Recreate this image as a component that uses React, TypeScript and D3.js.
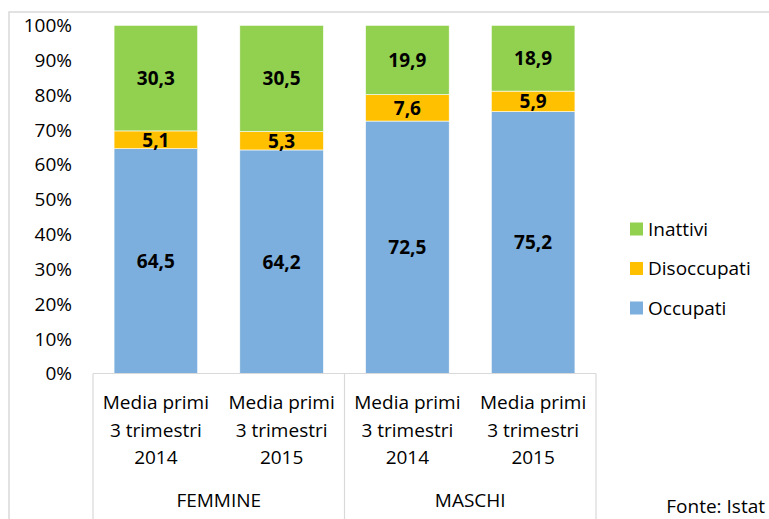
import React from "react";
import * as d3 from "d3";

const width = 769;
const height = 519;

// data
const groups = ["FEMMINE", "MASCHI"];
const categories = ["F2014", "F2015", "M2014", "M2015"];
const categoryLines = [
  ["Media primi", "3 trimestri", "2014"],
  ["Media primi", "3 trimestri", "2015"],
  ["Media primi", "3 trimestri", "2014"],
  ["Media primi", "3 trimestri", "2015"],
];
const seriesNames = ["Occupati", "Disoccupati", "Inattivi"];
const occupati = [64.5, 64.2, 72.5, 75.2];
const disoccupati = [5.1, 5.3, 7.6, 5.9];
const inattivi = [30.3, 30.5, 19.9, 18.9];
const yTicks = [0, 0.1, 0.2, 0.3, 0.4, 0.5, 0.6, 0.7, 0.8, 0.9, 1];

const colors: Record<string, string> = {
  Occupati: "#7cafdd",
  Disoccupati: "#ffc000",
  Inattivi: "#92d050",
};

const font = "'Open Sans', sans-serif";
const fontSize = 19;

const plot = { left: 93, right: 596, top: 25.3, bottom: 373.5 };

if (typeof document !== "undefined") document.body.style.margin = "0";

export default function App() {
  const rows = categories.map((c, i) => ({
    cat: c,
    Occupati: occupati[i],
    Disoccupati: disoccupati[i],
    Inattivi: inattivi[i],
  }));

  // 100% stacked
  const stacked = d3
    .stack<any>()
    .keys(seriesNames)
    .offset(d3.stackOffsetExpand)(rows);

  const x = d3
    .scaleBand()
    .domain(categories)
    .range([plot.left, plot.right])
    .paddingInner(0.335)
    .paddingOuter(0.1675);

  const y = d3.scaleLinear().domain([0, 1]).range([plot.bottom, plot.top]);

  const values: Record<string, number[]> = {
    Occupati: occupati,
    Disoccupati: disoccupati,
    Inattivi: inattivi,
  };

  const fmt = (v: number) => v.toFixed(1).replace(".", ",");
  const step = x.step();
  const groupEdges = [plot.left, plot.left + step * 2, plot.right];

  return (
    <svg width={width} height={height} style={{ display: "block" }}>
      <rect width={width} height={height} fill="#fff" />
      {/* chart frame */}
      <rect
        x={9}
        y={12}
        width={width + 20}
        height={height + 20}
        fill="none"
        stroke="#d9d9d9"
        strokeWidth={1.5}
      />

      {/* y axis labels */}
      {yTicks.map((t) => (
        <text
          key={t}
          x={72}
          y={y(t)}
          dy="0.36em"
          textAnchor="end"
          fontFamily={font}
          fontSize={fontSize}
          fill="#000"
        >
          {d3.format(".0%")(t)}
        </text>
      ))}

      {/* bars */}
      {stacked.map((s) => (
        <g key={s.key} fill={colors[s.key]}>
          {s.map((d, i) => (
            <rect
              key={i}
              x={x(categories[i])}
              y={y(d[1])}
              width={x.bandwidth()}
              height={y(d[0]) - y(d[1])}
              stroke="#fff"
              strokeWidth={0.6}
            />
          ))}
        </g>
      ))}

      {/* data labels */}
      {stacked.map((s) =>
        s.map((d, i) => (
          <text
            key={s.key + i}
            x={(x(categories[i]) ?? 0) + x.bandwidth() / 2}
            y={y((d[0] + d[1]) / 2)}
            dy="0.36em"
            textAnchor="middle"
            fontFamily={font}
            fontWeight="bold"
            fontSize={fontSize}
            fill="#000"
          >
            {fmt(values[s.key][i])}
          </text>
        ))
      )}

      {/* category axis */}
      <line
        x1={plot.left}
        x2={plot.right}
        y1={plot.bottom}
        y2={plot.bottom}
        stroke="#d9d9d9"
        strokeWidth={1.2}
      />
      {groupEdges.map((gx, i) => (
        <line
          key={i}
          x1={gx}
          x2={gx}
          y1={plot.bottom}
          y2={height}
          stroke="#d9d9d9"
          strokeWidth={1.2}
        />
      ))}
      {categories.map((c, i) => (
        <text
          key={c}
          x={(x(c) ?? 0) + x.bandwidth() / 2}
          textAnchor="middle"
          fontFamily={font}
          fontSize={fontSize}
          fill="#000"
        >
          {categoryLines[i].map((l, j) => (
            <tspan key={j} x={(x(c) ?? 0) + x.bandwidth() / 2} y={409 + j * 27.5}>
              {l}
            </tspan>
          ))}
        </text>
      ))}
      {groups.map((g, i) => (
        <text
          key={g}
          x={(groupEdges[i] + groupEdges[i + 1]) / 2}
          y={507}
          textAnchor="middle"
          fontFamily={font}
          fontSize={fontSize}
          fill="#000"
        >
          {g}
        </text>
      ))}

      {/* legend */}
      {seriesNames
        .slice()
        .reverse()
        .map((n, i) => (
          <g key={n} transform={`translate(630,${229 + i * 39.5})`}>
            <rect x={0} y={-6.5} width={13} height={13} fill={colors[n]} />
            <text
              x={18}
              dy="0.36em"
              fontFamily={font}
              fontSize={fontSize}
              fill="#000"
            >
              {n}
            </text>
          </g>
        ))}

      <text
        x={765}
        y={513}
        textAnchor="end"
        fontFamily={font}
        fontSize={fontSize}
        fill="#000"
      >
        Fonte: Istat
      </text>
    </svg>
  );
}
